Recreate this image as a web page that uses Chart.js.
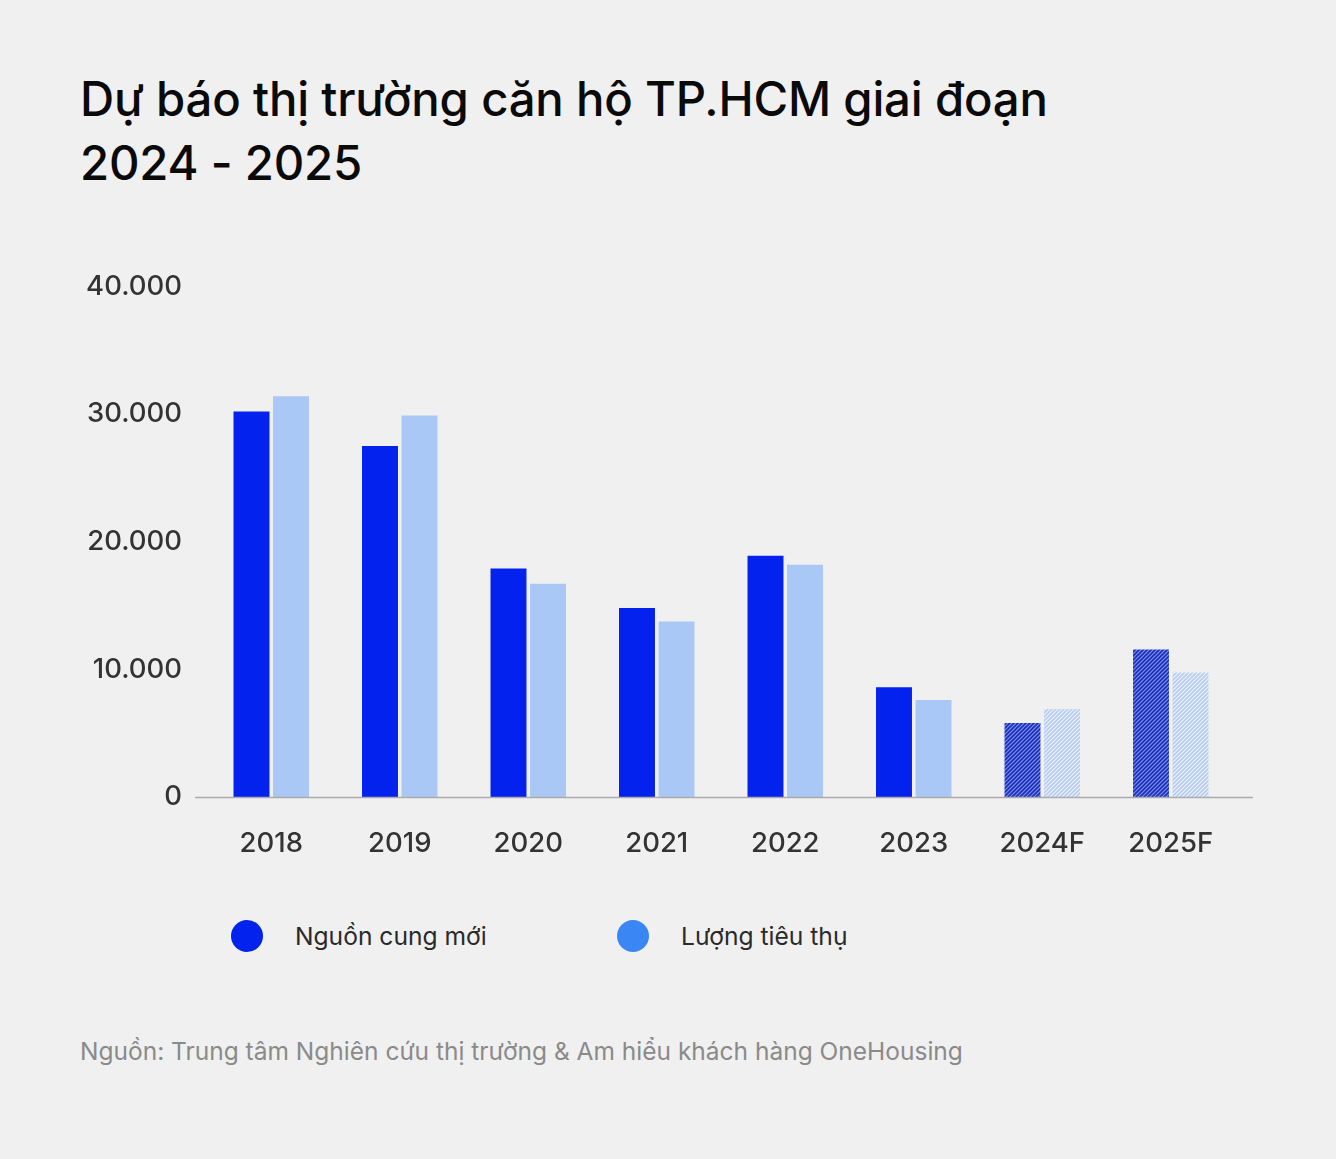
<!DOCTYPE html>
<html>
<head>
<meta charset="utf-8">
<script src="https://cdn.jsdelivr.net/npm/chart.js@4.4.1/dist/chart.umd.min.js"></script>
<style>
  html, body { margin:0; padding:0; background:#f0f0f0; }
  body { width:1336px; height:1159px; position:relative; overflow:hidden; font-family: Inter, "Noto Sans", sans-serif; }
  #title { position:absolute; left:80px; top:67px; font-size:47.3px; font-weight:500; line-height:64px; color:#0a0a0a; letter-spacing:-0.2px; }
  #wrap { position:absolute; left:0; top:245px; width:1336px; height:635px; }
  .leg { position:absolute; top:918px; height:36px; display:flex; align-items:center; font-size:24.6px; color:#2a2a2a; }
  .dot { width:32px; height:32px; border-radius:50%; margin-right:32px; }
  #src { position:absolute; left:80px; top:1036px; font-size:24.5px; color:#8a8a8a; }
</style>
</head>
<body>
<div id="title">Dự báo thị trường căn hộ TP.HCM giai đoạn<br>2024 - 2025</div>
<div id="wrap"><canvas id="c"></canvas></div>
<div class="leg" style="left:231px"><div class="dot" style="background:#0322ee"></div>Nguồn cung mới</div>
<div class="leg" style="left:617px"><div class="dot" style="background:#3a86f5"></div>Lượng tiêu thụ</div>
<div id="src">Nguồn: Trung tâm Nghiên cứu thị trường &amp; Am hiểu khách hàng OneHousing</div>
<script>
const categories = ['2018','2019','2020','2021','2022','2023','2024F','2025F'];
const supplyValues = [30200, 27500, 17900, 14800, 18900, 8600, 5800, 11550];
const salesValues  = [31400, 29900, 16700, 13750, 18200, 7600, 6900, 9750];
const forecastFlags = [false,false,false,false,false,false,true,true];
const yTicks = [0, 10000, 20000, 30000, 40000];

function hatch(bg, fg) {
  const p = document.createElement('canvas');
  p.width = 4; p.height = 4;
  const g = p.getContext('2d');
  g.fillStyle = bg; g.fillRect(0,0,4,4);
  g.strokeStyle = fg; g.lineWidth = 1.6;
  g.beginPath();
  g.moveTo(0,4); g.lineTo(4,0);
  g.moveTo(-1,1); g.lineTo(1,-1);
  g.moveTo(3,5); g.lineTo(5,3);
  g.stroke();
  return document.getElementById('c').getContext('2d').createPattern(p, 'repeat');
}
const darkSolid = '#0322ee', lightSolid = '#aac8f5';
const darkHatch = hatch('#7e8ee0', '#1a2ec0');
const lightHatch = hatch('#eef2fa', '#b5cbf0');

const baseline = {
  id: 'baseline',
  afterDatasetsDraw(chart) {
    const ctx = chart.ctx, y = chart.scales.y.getPixelForValue(0);
    ctx.save();
    ctx.strokeStyle = '#ababab'; ctx.lineWidth = 1.5;
    ctx.beginPath(); ctx.moveTo(195, y + 0.5); ctx.lineTo(1253, y + 0.5); ctx.stroke();
    ctx.restore();
  }
};

new Chart(document.getElementById('c'), {
  type: 'bar',
  data: {
    labels: categories,
    datasets: [
      { label: 'Nguồn cung mới', data: supplyValues,
        backgroundColor: forecastFlags.map(f => f ? darkHatch : darkSolid) },
      { label: 'Lượng tiêu thụ', data: salesValues,
        backgroundColor: forecastFlags.map(f => f ? lightHatch : lightSolid) }
    ]
  },
  options: {
    responsive: true, maintainAspectRatio: false, animation: false,
    layout: { padding: { left: 0, right: 101, top: 12, bottom: 0 } },
    categoryPercentage: 0.615, barPercentage: 0.91,
    plugins: { legend: { display: false }, tooltip: { enabled: false } },
    scales: {
      x: {
        grid: { display: false, drawTicks: false }, border: { display: false },
        ticks: { color: '#333', padding: 30, font: { family: 'Inter', size: 27.5, weight: '500' } },
        afterFit: s => { s.height = 83; }
      },
      y: {
        min: 0, max: 40000,
        grid: { display: false, drawTicks: false }, border: { display: false },
        afterBuildTicks: s => { s.ticks = yTicks.map(v => ({ value: v })); },
        ticks: { color: '#333', padding: 25, font: { family: 'Inter', size: 27.5, weight: '500' },
          callback: v => v.toLocaleString('de-DE') },
        afterFit: s => { s.width = 207; }
      }
    }
  },
  plugins: [baseline]
});
</script>
</body>
</html>
